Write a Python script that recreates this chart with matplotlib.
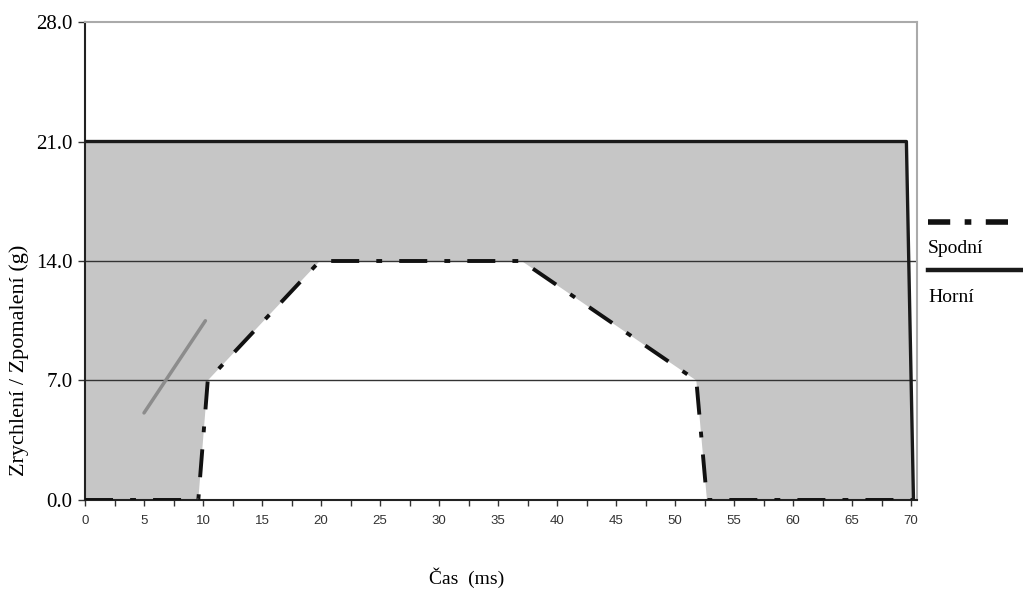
import numpy as np
import matplotlib
matplotlib.use('Agg')
import matplotlib.pyplot as plt
from matplotlib.ticker import MultipleLocator, FormatStrFormatter

# horni mez (upper limit) and spodni mez (lower limit)
time_upper = [0, 69.6, 70.2]
g_upper = [21, 21, 0]
time_lower = [0, 9.6, 10.4, 19.9, 37.0, 51.8, 52.7, 70.2]
g_lower = [0, 0, 7, 14, 14, 7, 0, 0]
# stray grey stroke in the original figure
time_stroke = [5.0, 10.2]
g_stroke = [5.1, 10.5]

y_ticks = [0, 7, 14, 21, 28]
grid_levels = [7, 14]
legend_labels = ["Spodní", "Horní"]

serif = "Liberation Serif"

fig = plt.figure(figsize=(10.23, 6.05), dpi=100)
ax = fig.add_axes([0.0831, 0.1736, 0.8133, 0.79])

# grey band between the two limits
poly_x = np.r_[time_upper, time_lower[::-1]]
poly_y = np.r_[g_upper, g_lower[::-1]]
ax.fill(poly_x, poly_y, color="#c6c6c6", lw=0, zorder=1)

for lvl in grid_levels:
    ax.axhline(lvl, color="#333333", lw=1.0, zorder=2)

ax.plot(time_stroke, g_stroke, color="#8c8c8c", lw=2.5, solid_capstyle="round", zorder=3)
lower_line, = ax.plot(time_lower, g_lower, color="#111111", lw=2.8,
                      dashes=(7.2, 4.4, 1.5, 4.4), zorder=4)
upper_line, = ax.plot(time_upper, g_upper, color="#1a1a1a", lw=2.4, zorder=4)

ax.set_xlim(0, 70.5)
ax.set_ylim(0, 28)

ax.xaxis.set_major_locator(MultipleLocator(5))
ax.xaxis.set_minor_locator(MultipleLocator(2.5))
ax.set_yticks(y_ticks)
ax.yaxis.set_major_formatter(FormatStrFormatter("%.1f"))

ax.tick_params(axis="x", which="both", direction="out", length=4, width=1,
               color="#333333", labelsize=9.5, labelcolor="#333333", pad=7)
ax.tick_params(axis="y", direction="out", length=5, width=1, color="#333333",
               labelsize=15, pad=4)
for lab in ax.get_xticklabels():
    lab.set_family("Liberation Sans")
for lab in ax.get_yticklabels():
    lab.set_family(serif)

for side in ["left", "bottom"]:
    ax.spines[side].set_color("#222222")
    ax.spines[side].set_linewidth(1.5)
for side in ["top", "right"]:
    ax.spines[side].set_color("#aaaaaa")
    ax.spines[side].set_linewidth(1.5)

ax.set_xlabel("Čas  (ms)", family=serif, fontsize=14)
ax.xaxis.set_label_coords((467 - 85) / 832, -(578 - 500) / 478)
ax.xaxis.label.set_va("center")
ax.set_ylabel("Zrychlení / Zpomalení (g)", family=serif, fontsize=16)
ax.yaxis.set_label_coords(-(85 - 29) / 832, (500 - 360) / 478)

# legend on the right, line above its label
fig.add_artist(plt.Line2D([928/1023, 1018/1023], [1-222/605, 1-222/605],
                          color="#111111", lw=4, dashes=(4, 2.6, 1.2, 2.6)))
fig.text(928/1023, 1-248/605, legend_labels[0], family=serif, fontsize=14,
         va="center", ha="left")
fig.add_artist(plt.Line2D([928/1023, 1021/1023], [1-270/605, 1-270/605],
                          color="#1a1a1a", lw=3.2))
fig.text(928/1023, 1-298/605, legend_labels[1], family=serif, fontsize=14,
         va="center", ha="left")

fig.savefig("out.png", dpi=100)
